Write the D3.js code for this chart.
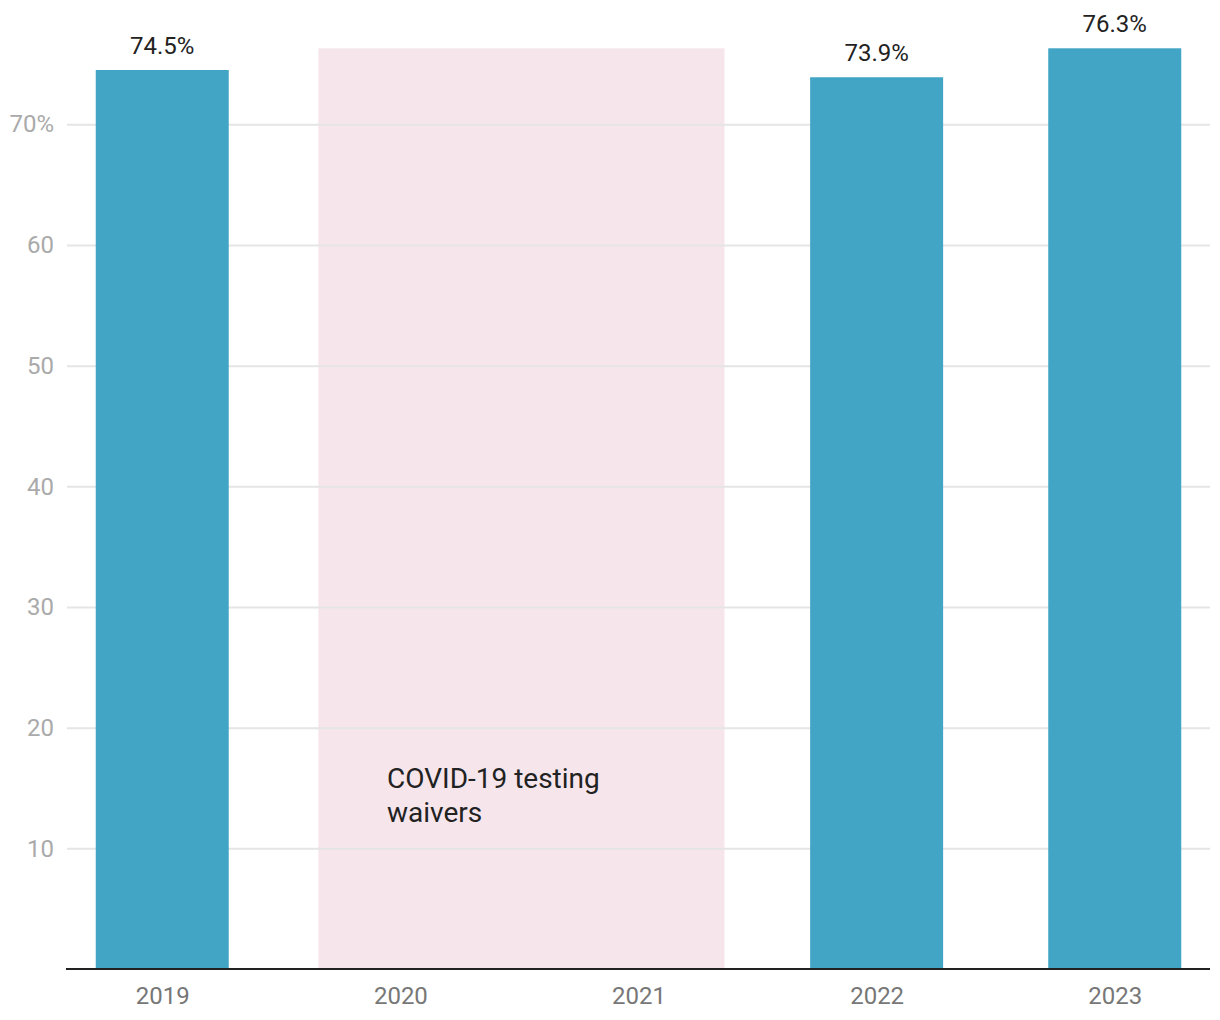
<!DOCTYPE html>
<html><head><meta charset="utf-8">
<script src="https://cdn.jsdelivr.net/npm/d3@7"></script>
<style>body{margin:0;background:#fff;font-family:Roboto,sans-serif;}</style>
</head><body><svg id="c" width="1220" height="1020"></svg>
<script>
const categories = ["2019","2020","2021","2022","2023"];
const barYears = ["2019","2022","2023"];
const barValues = [74.5, 73.9, 76.3];
const barLabels = ["74.5%","73.9%","76.3%"];
const yTicks = [10,20,30,40,50,60,70];
const shadeYears = ["2020","2021"];
const shadeTop = 76.3;
const noteLines = ["COVID-19 testing","waivers"];

const svg = d3.select("#c");
const x = d3.scalePoint().domain(categories).range([67,1210]).padding(0.4);
const y = d3.scaleLinear().domain([0,80]).range([969, 969-80*12.067]);
const bw = 133;

// shaded region
svg.append("rect")
  .attr("x", x(shadeYears[0]) - 82)
  .attr("width", x(shadeYears[1]) + 86 - (x(shadeYears[0]) - 82))
  .attr("y", y(shadeTop))
  .attr("height", y(0) - y(shadeTop))
  .attr("fill", "#f6e6ec");

// grid + y axis
const yAxis = d3.axisLeft(y).tickValues(yTicks).tickSize(-(1210-67)).tickPadding(13)
  .tickFormat(d => d === 70 ? "70%" : d);
const gy = svg.append("g").attr("transform","translate(67,0)").call(yAxis);
gy.select(".domain").remove();
gy.selectAll(".tick line").attr("stroke","#e5e5e5").attr("stroke-width",2);
gy.selectAll(".tick text").attr("fill","#aaa").attr("font-size",24).attr("font-family","Roboto");

// note text
const note = svg.append("text").attr("x", 387).attr("y", 788)
  .attr("font-size",28).attr("fill","#222").attr("font-family","Roboto");
noteLines.forEach((t,i)=> note.append("tspan").attr("x",387).attr("dy", i?34:0).text(t));

// bars
svg.selectAll("rect.bar").data(barValues).enter().append("rect").attr("class","bar")
  .attr("x",(d,i)=>x(barYears[i]) - bw/2).attr("width",bw)
  .attr("y",d=>y(d)).attr("height",d=>y(0)-y(d)).attr("fill","#42a5c6");

svg.selectAll("text.val").data(barValues).enter().append("text").attr("class","val")
  .attr("x",(d,i)=>x(barYears[i])).attr("y",d=>y(d)-16)
  .attr("text-anchor","middle").attr("font-size",24).attr("fill","#222").attr("font-family","Roboto")
  .text((d,i)=>barLabels[i]);

// x axis
const gx = svg.append("g").attr("transform","translate(0,969)").call(d3.axisBottom(x).tickSize(0).tickPadding(18));
gx.select(".domain").attr("stroke","#222").attr("stroke-width",2).attr("d","M66,0H1210");
gx.selectAll(".tick text").attr("fill","#777").attr("font-size",24).attr("font-family","Roboto");
</script></body></html>
